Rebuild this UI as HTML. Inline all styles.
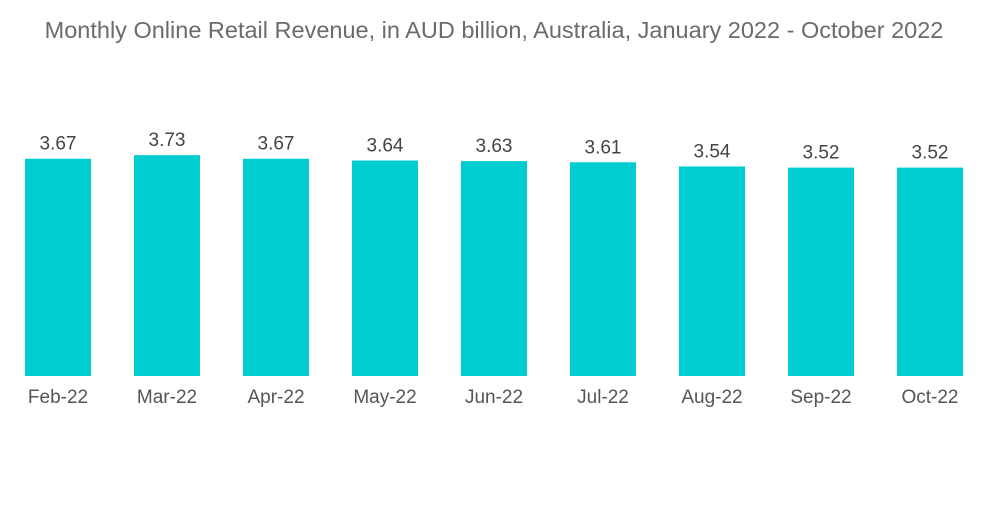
<!DOCTYPE html>
<html><head><meta charset="utf-8"><style>
body{margin:0;background:#fff;font-family:"Liberation Sans",sans-serif}
</style></head><body>
<svg id="chart" width="1000" height="504" xmlns="http://www.w3.org/2000/svg">
<text x="494" y="38" text-anchor="middle" font-size="23.5" fill="#6b6b6b">Monthly Online Retail Revenue, in AUD billion, Australia, January 2022 - October 2022</text>
<g id="bars"></g>
</svg>
<script>
const categories=["Feb-22","Mar-22","Apr-22","May-22","Jun-22","Jul-22","Aug-22","Sep-22","Oct-22"];
const revenue=[3.67,3.73,3.67,3.64,3.63,3.61,3.54,3.52,3.52];
const valueLabels=["3.67","3.73","3.67","3.64","3.63","3.61","3.54","3.52","3.52"];
const ns="http://www.w3.org/2000/svg";
const g=document.getElementById('bars');
const baseY=376, scale=59.2, x0=25, step=109, bw=66;
function xPos(i){return x0+i*step;}
function yPos(v){return baseY-v*scale;}
categories.forEach((c,i)=>{
  const r=document.createElementNS(ns,'rect');
  r.setAttribute('x',xPos(i));r.setAttribute('y',yPos(revenue[i]));
  r.setAttribute('width',bw);r.setAttribute('height',baseY-yPos(revenue[i]));
  r.setAttribute('fill','#00cdd1');
  
  
  g.appendChild(r);
  const t=document.createElementNS(ns,'text');
  t.setAttribute('x',xPos(i)+bw/2);t.setAttribute('y',yPos(revenue[i])-9);
  t.setAttribute('text-anchor','middle');t.setAttribute('font-size','19');t.setAttribute('fill','#444');
  t.textContent=valueLabels[i];
  
  
  g.appendChild(t);
  const l=document.createElementNS(ns,'text');
  l.setAttribute('x',xPos(i)+bw/2);l.setAttribute('y',403);
  l.setAttribute('text-anchor','middle');l.setAttribute('font-size','19');l.setAttribute('fill','#555');
  l.textContent=c;
  
  
  g.appendChild(l);
});
</script>
</body></html>
